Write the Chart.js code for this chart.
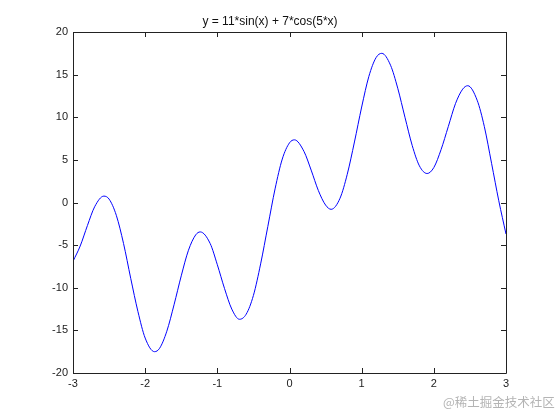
<!DOCTYPE html>
<html>
<head>
<meta charset="utf-8">
<script src="https://cdn.jsdelivr.net/npm/chart.js@4"></script>
<style>
  html, body { margin: 0; padding: 0; background: #fff; }
  #wrap { position: relative; width: 560px; height: 420px; }
</style>
</head>
<body>
<div id="wrap"><canvas id="chart" width="560" height="420"></canvas></div>
<script>
  // values (peaks and troughs included)
  const xValues = [-3, -2.9, -2.8, -2.7, -2.572, -2.5, -2.4, -2.3, -2.2, -2.1, -2.0, -1.87,
    -1.8, -1.7, -1.6, -1.5, -1.4, -1.3, -1.237, -1.1, -1.0, -0.9, -0.8, -0.693, -0.6, -0.5,
    -0.4, -0.3, -0.2, -0.1, 0, 0.069, 0.2, 0.3, 0.4, 0.5, 0.577, 0.7, 0.8, 0.9, 1.0,
    1.1, 1.2, 1.279, 1.4, 1.5, 1.6, 1.7, 1.8, 1.907, 2.0, 2.1, 2.2, 2.3, 2.4, 2.47,
    2.6, 2.7, 2.8, 2.9, 3.0];
  const yValues = [-6.9, -5.1, -2.7, -0.5, 0.75, 0.4, -1.5, -4.8, -8.9, -12.8, -15.9, -17.5,
    -17.1, -15.1, -12.0, -8.6, -5.6, -3.8, -3.45, -4.8, -7.3, -10.1, -12.5, -13.7, -13.1, -10.9,
    -7.2, -2.8, 1.6, 5.1, 7.0, 7.35, 6.0, 3.8, 1.4, -0.3, -0.8, 0.5, 3.3, 7.1, 11.2,
    14.8, 17.0, 17.5, 16.1, 13.4, 10.0, 6.7, 4.3, 3.4, 4.1, 6.2, 8.9, 11.6, 13.3, 13.7,
    12.0, 8.9, 4.6, 0.2, -3.7];
  const xTicks = [-3, -2, -1, 0, 1, 2, 3];
  const yTicks = [-20, -15, -10, -5, 0, 5, 10, 15, 20];
  const titleText = 'y = 11*sin(x) + 7*cos(5*x)';
  const watermark = '@稀土掘金技术社区';

  const points = xValues.map((x, i) => ({ x: x, y: yValues[i] }));
  const ink = '#222222';
  const tickFont = { family: '"Liberation Sans", Arial, sans-serif', size: 11 };

  const boxPlugin = {
    id: 'boxPlugin',
    afterDraw(chart) {
      const { ctx, chartArea: a, scales } = chart;
      const len = 5;
      ctx.save();
      ctx.strokeStyle = ink;
      ctx.lineWidth = 1;
      ctx.beginPath();
      ctx.rect(Math.round(a.left) + 0.5, Math.round(a.top) + 0.5,
        Math.round(a.right) - Math.round(a.left), Math.round(a.bottom) - Math.round(a.top));
      xTicks.forEach((t) => {
        const px = Math.round(scales.x.getPixelForValue(t)) + 0.5;
        ctx.moveTo(px, a.bottom); ctx.lineTo(px, a.bottom - len);
        ctx.moveTo(px, a.top); ctx.lineTo(px, a.top + len);
      });
      yTicks.forEach((t) => {
        const py = Math.round(scales.y.getPixelForValue(t)) + 0.5;
        ctx.moveTo(a.left, py); ctx.lineTo(a.left + len, py);
        ctx.moveTo(a.right, py); ctx.lineTo(a.right - len, py);
      });
      ctx.stroke();

      ctx.fillStyle = '#111111';
      ctx.font = '12px "Liberation Sans", Arial, sans-serif';
      ctx.textAlign = 'center';
      ctx.textBaseline = 'middle';
      ctx.fillText(titleText, 270, 22);

      ctx.fillStyle = '#b4b4b4';
      ctx.font = '12.5px "Noto Sans CJK SC", sans-serif';
      ctx.textAlign = 'left';
      ctx.fillText(watermark, 443, 402);
      ctx.restore();
    },
  };

  new Chart(document.getElementById('chart'), {
    type: 'line',
    data: {
      datasets: [{
        data: points,
        borderColor: '#0000ff',
        borderWidth: 1,
        pointRadius: 0,
        fill: false,
        cubicInterpolationMode: 'monotone',
      }],
    },
    options: {
      responsive: false,
      animation: false,
      devicePixelRatio: 1,
      layout: { padding: { top: 32, right: 54, bottom: 0, left: 0 } },
      plugins: { legend: { display: false }, tooltip: { enabled: false } },
      scales: {
        x: {
          type: 'linear',
          min: -3,
          max: 3,
          afterBuildTicks(scale) { scale.ticks = xTicks.map((v) => ({ value: v })); },
          afterFit(scale) { scale.height = 47; },
          grid: { display: false, drawTicks: false },
          border: { display: false },
          ticks: { color: ink, font: tickFont, padding: 4, maxRotation: 0 },
        },
        y: {
          min: -20,
          max: 20,
          afterBuildTicks(scale) { scale.ticks = yTicks.map((v) => ({ value: v })); },
          afterFit(scale) { scale.width = 73; },
          grid: { display: false, drawTicks: false },
          border: { display: false },
          ticks: { color: ink, font: tickFont, padding: 5 },
        },
      },
    },
    plugins: [boxPlugin],
  });
</script>
</body>
</html>
